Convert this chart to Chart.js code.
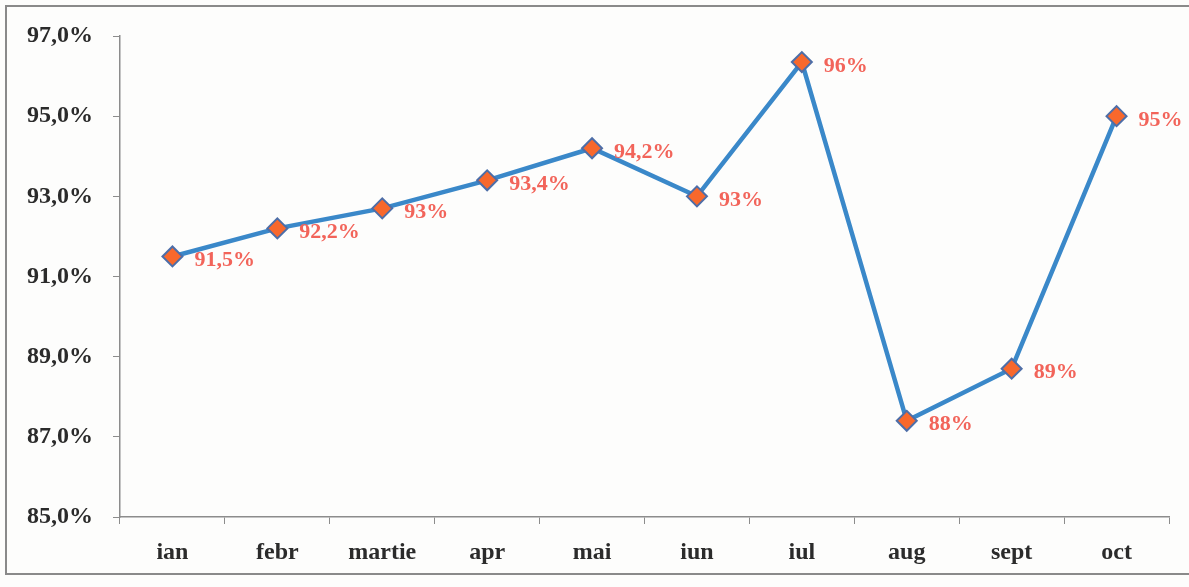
<!DOCTYPE html>
<html>
<head>
<meta charset="utf-8">
<script src="https://cdn.jsdelivr.net/npm/chart.js@4"></script>
<style>
  html, body { margin: 0; padding: 0; background: #fdfdfc; }
  #wrap { position: relative; width: 1189px; height: 587px; }
  #frame { position: absolute; left: 5px; top: 5px; width: 1190px; height: 570px; border: 2px solid #8a8a8a; box-sizing: border-box; }
  canvas { position: absolute; left: 0; top: 0; }
</style>
</head>
<body>
<div id="wrap">
  <div id="frame"></div>
  <canvas id="cchart" width="1189" height="587"></canvas>
</div>
<script>
const months = ['ian', 'febr', 'martie', 'apr', 'mai', 'iun', 'iul', 'aug', 'sept', 'oct'];
const values = [91.5, 92.2, 92.7, 93.4, 94.2, 93.0, 96.35, 87.4, 88.7, 95.0];
const pointLabels = ['91,5%', '92,2%', '93%', '93,4%', '94,2%', '93%', '96%', '88%', '89%', '95%'];
const yMin = 85, yMax = 97, yStep = 2;

// labels drawn to the right of each point
const valueLabels = {
  id: 'valueLabels',
  afterDatasetsDraw(chart) {
    const ctx = chart.ctx;
    const meta = chart.getDatasetMeta(0);
    ctx.save();
    ctx.font = "bold 22px 'Liberation Serif', 'Times New Roman', serif";
    ctx.fillStyle = '#f2645a';
    ctx.textAlign = 'left';
    ctx.textBaseline = 'middle';
    meta.data.forEach((pt, i) => {
      ctx.fillText(pointLabels[i], pt.x + 22, pt.y + 4);
    });
    ctx.restore();
  },
};

const ctx = document.getElementById('cchart');
new Chart(ctx, {
  type: 'line',
  data: {
    labels: months,
    datasets: [
      {
        data: values,
        borderColor: '#3a88c9',
        borderWidth: 4.5,
        pointStyle: 'rectRot',
        pointRadius: 10,
        pointBorderWidth: 2,
        pointBackgroundColor: '#f8682c',
        pointBorderColor: '#4d6ea8',
        tension: 0,
        fill: false,
      },
    ],
  },
  options: {
    responsive: false,
    animation: false,
    layout: { padding: { left: 0, right: 20, top: 36, bottom: 0 } },
    plugins: { legend: { display: false }, tooltip: { enabled: false } },
    scales: {
      x: {
        offset: true,
        afterFit: (s) => { s.height = 70; },
        border: { color: '#8c8c8c', width: 1.5 },
        grid: { offset: true, drawOnChartArea: false, tickLength: 7, color: '#8c8c8c' },
        ticks: {
          color: '#2b2b2b',
          padding: 14,
          font: { family: "'Liberation Serif', 'Times New Roman', serif", size: 24, weight: 'bold' },
        },
      },
      y: {
        min: yMin,
        max: yMax,
        afterFit: (s) => { s.width = 120; },
        border: { color: '#8c8c8c', width: 1.5 },
        grid: { drawOnChartArea: false, tickLength: 7, color: '#8c8c8c' },
        ticks: {
          stepSize: yStep,
          color: '#2b2b2b',
          padding: 20,
          callback: (v) => v.toFixed(1).replace('.', ',') + '%',
          font: { family: "'Liberation Serif', 'Times New Roman', serif", size: 24, weight: 'bold' },
        },
      },
    },
  },
  plugins: [valueLabels],
});
</script>
</body>
</html>
